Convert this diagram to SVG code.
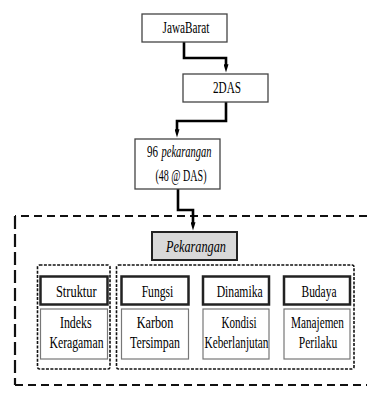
<svg xmlns="http://www.w3.org/2000/svg" width="367" height="397" viewBox="0 0 367 397">
<style>
text{font-family:"Liberation Serif","DejaVu Serif",serif;fill:#000;font-size:17px;text-anchor:middle}
.t{font-size:16px}
.it{font-style:italic}
.box{fill:#fff;stroke:#444;stroke-width:1.3}
.hd{fill:#fff;stroke:#222;stroke-width:2.5}
.sub{fill:#fff;stroke:#777;stroke-width:1.2}
.grp{fill:none;stroke:#111;stroke-width:1.6;stroke-dasharray:3 1.4}
.outer{fill:none;stroke:#111;stroke-width:2.2}
.conn{fill:none;stroke:#000;stroke-width:2.6;stroke-linejoin:miter}
</style>
<defs>
<marker id="ah" markerUnits="userSpaceOnUse" viewBox="0 0 10 6" markerWidth="10" markerHeight="5" refX="1" refY="3" orient="auto">
<path d="M0,0 L10,3 L0,6 z" fill="#000"/>
</marker>
</defs>
<rect width="367" height="397" fill="#fff"/>
<g id="outer-frame">
<path class="outer" d="M367 216 H15" stroke-dasharray="8 5"/>
<path class="outer" d="M15 216 V385" stroke-dasharray="13 5"/>
<path class="outer" d="M15 385 H367" stroke-dasharray="8 5"/>
</g>
<g id="connectors">
<path class="conn" d="M184 42 V58 H226 V65" marker-end="url(#ah)"/>
<path class="conn" d="M226 102 V121 H177 V130" marker-end="url(#ah)"/>
<path class="conn" d="M178 189 V210 H193 V223" marker-end="url(#ah)"/>
</g>
<g id="node-jawabarat">
<rect class="box" x="142" y="14" width="85" height="28"/>
<text class="t" x="186" y="33" textLength="47" lengthAdjust="spacingAndGlyphs">JawaBarat</text>
</g>
<g id="node-2das">
<rect class="box" x="183" y="74" width="85" height="28"/>
<text class="t" x="227" y="93" textLength="28" lengthAdjust="spacingAndGlyphs">2DAS</text>
</g>
<g id="node-96">
<rect class="box" x="135" y="139" width="85" height="50"/>
<text class="t" x="147" y="157" style="text-anchor:start" textLength="11" lengthAdjust="spacingAndGlyphs">96</text>
<text class="t it" x="161.5" y="157" style="text-anchor:start" textLength="50" lengthAdjust="spacingAndGlyphs">pekarangan</text>
<text class="t" x="181" y="181" textLength="51" lengthAdjust="spacingAndGlyphs">(48 @ DAS)</text>
</g>
<g id="node-pekarangan">
<rect x="152" y="232" width="85" height="28" fill="#d9d9d9" stroke="#222" stroke-width="2"/>
<text class="it" x="196" y="251.5" textLength="60" lengthAdjust="spacingAndGlyphs">Pekarangan</text>
</g>
<g id="group-struktur">
<rect class="grp" x="37.5" y="265" width="72.5" height="104" rx="2"/>
</g>
<g id="group-others">
<rect class="grp" x="116.5" y="265" width="237.5" height="104" rx="2"/>
</g>
<g id="node-struktur">
<rect class="hd" x="40.5" y="276.5" width="67" height="28"/>
<text x="76.3" y="297" textLength="40.7" lengthAdjust="spacingAndGlyphs">Struktur</text>
</g>
<g id="node-indeks">
<rect class="sub" x="40.5" y="309" width="67" height="50"/>
<text x="75.8" y="328" textLength="31.7" lengthAdjust="spacingAndGlyphs">Indeks</text>
<text x="76.5" y="348" textLength="54" lengthAdjust="spacingAndGlyphs">Keragaman</text>
</g>
<g id="node-fungsi">
<rect class="hd" x="121.5" y="276.5" width="67" height="28"/>
<text x="157.5" y="297" textLength="31.7" lengthAdjust="spacingAndGlyphs">Fungsi</text>
</g>
<g id="node-karbon">
<rect class="sub" x="121.5" y="309" width="67" height="50"/>
<text x="155" y="328" textLength="36.7" lengthAdjust="spacingAndGlyphs">Karbon</text>
<text x="155" y="348" textLength="50" lengthAdjust="spacingAndGlyphs">Tersimpan</text>
</g>
<g id="node-dinamika">
<rect class="hd" x="203" y="276.5" width="66" height="28"/>
<text x="239.7" y="297" textLength="46" lengthAdjust="spacingAndGlyphs">Dinamika</text>
</g>
<g id="node-kondisi">
<rect class="sub" x="203" y="309" width="66" height="50"/>
<text x="239" y="328" textLength="35" lengthAdjust="spacingAndGlyphs">Kondisi</text>
<text x="236.5" y="348" textLength="64" lengthAdjust="spacingAndGlyphs">Keberlanjutan</text>
</g>
<g id="node-budaya">
<rect class="hd" x="284" y="276.5" width="66" height="28"/>
<text x="319" y="297" textLength="35" lengthAdjust="spacingAndGlyphs">Budaya</text>
</g>
<g id="node-manajemen">
<rect class="sub" x="284" y="309" width="66" height="50"/>
<text transform="translate(317.5 328) scale(0.66 1)" x="0" y="0">Manajemen</text>
<text x="318" y="348" textLength="38.3" lengthAdjust="spacingAndGlyphs">Perilaku</text>
</g>
</svg>
